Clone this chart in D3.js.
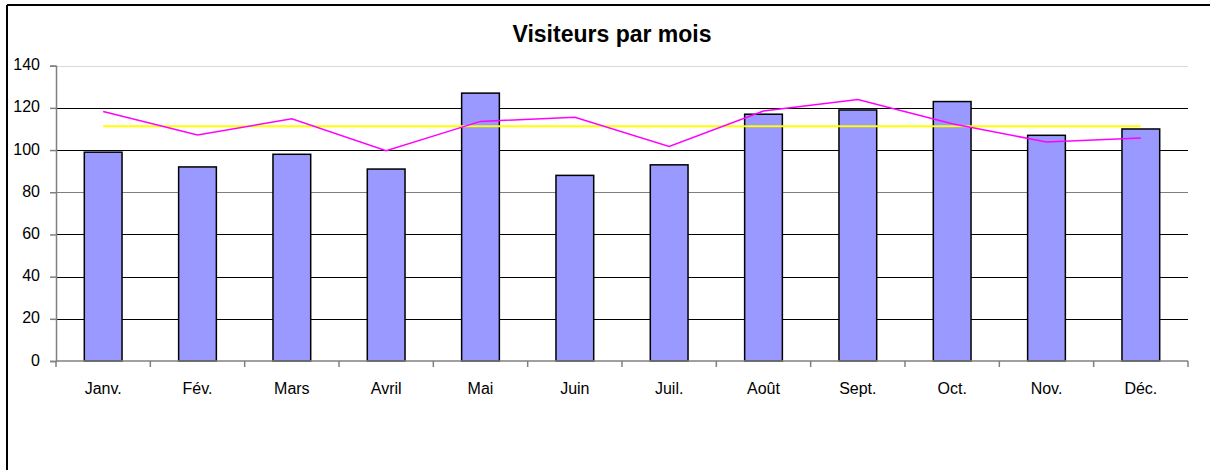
<!DOCTYPE html>
<html lang="fr">
<head>
<meta charset="UTF-8">
<title>Visiteurs par mois</title>
<script src="https://d3js.org/d3.v7.min.js"></script>
<style>
    body, html { margin: 0; padding: 0; background: #fff; }
    svg { display: block; font-family: 'Liberation Sans', Arial, sans-serif; }
</style>
</head>
<body>
<div id="chart"></div>
<script>
    // data
    const months = ["Janv.", "Fév.", "Mars", "Avril", "Mai", "Juin", "Juil.", "Août", "Sept.", "Oct.", "Nov.", "Déc."]
    const visitors = [99, 92, 98, 91, 127, 88, 93, 117, 119, 123, 107, 110]
    const trend = [118.3, 107.2, 114.8, 99.7, 113.6, 115.6, 101.7, 118.5, 124, 112.5, 103.8, 105.7]
    const average = [111.3, 111.3, 111.3, 111.3, 111.3, 111.3, 111.3, 111.3, 111.3, 111.3, 111.3, 111.3]
    const yTicks = [0, 20, 40, 60, 80, 100, 120, 140]

    const width = 1210, height = 470
    const plot = { left: 56, right: 1188, top: 65.7, bottom: 361 }

    const svg = d3.select("#chart").append("svg")
        .attr("width", width)
        .attr("height", height)

    // frame (only top and left edges show)
    svg.append("line").attr("x1", 7).attr("y1", 5).attr("x2", width).attr("y2", 5)
        .attr("stroke", "#000").attr("stroke-width", 2)
    svg.append("line").attr("x1", 7).attr("y1", 5).attr("x2", 7).attr("y2", height)
        .attr("stroke", "#000").attr("stroke-width", 2)

    svg.append("text")
        .attr("x", 612).attr("y", 42)
        .attr("text-anchor", "middle")
        .style("font-size", "23px").style("font-weight", "bold")
        .text("Visiteurs par mois")

    const x = d3.scaleBand().domain(months)
        .range([plot.left, plot.right])
        .paddingInner(0.6).paddingOuter(0.3)
    const xCat = d3.scaleBand().domain(months).range([plot.left, plot.right])
    const y = d3.scaleLinear().domain([0, 140]).range([plot.bottom, plot.top])

    // gridlines
    const gridColor = v => v === 140 ? "#d9d9d9" : (v === 80 ? "#7f7f7f" : "#000")
    svg.append("g").selectAll("line")
        .data(yTicks.filter(d => d > 0))
        .join("line")
        .attr("x1", plot.left).attr("x2", plot.right)
        .attr("y1", d => Math.round(y(d)) + 0.5).attr("y2", d => Math.round(y(d)) + 0.5)
        .attr("stroke", gridColor).attr("stroke-width", 1)

    // y axis
    const yAxis = svg.append("g")
        .attr("transform", `translate(${plot.left},0)`)
        .call(d3.axisLeft(y).tickValues(yTicks).tickSize(6).tickPadding(10))
    yAxis.select(".domain").attr("stroke", "#808080").attr("stroke-width", 1.5)
    yAxis.selectAll(".tick line").attr("stroke", "#808080").attr("stroke-width", 1.5)
    yAxis.selectAll(".tick text")
        .style("font-size", "16px").style("font-family", "'Liberation Sans', Arial, sans-serif")
        .attr("fill", "#000").attr("dy", "0.25em")

    // bars
    svg.append("g").selectAll("rect")
        .data(visitors)
        .join("rect")
        .attr("x", (d, i) => x(months[i]))
        .attr("y", d => y(d))
        .attr("width", x.bandwidth())
        .attr("height", d => y(0) - y(d))
        .attr("fill", "#9999ff")
        .attr("stroke", "#000")
        .attr("stroke-width", 1.5)

    // x axis with ticks between categories
    const bounds = months.map(m => xCat(m)).concat([plot.right])
    svg.append("line")
        .attr("x1", plot.left).attr("x2", plot.right)
        .attr("y1", y(0)).attr("y2", y(0))
        .attr("stroke", "#808080").attr("stroke-width", 1.5)
    svg.append("g").selectAll("line")
        .data(bounds)
        .join("line")
        .attr("x1", d => d).attr("x2", d => d)
        .attr("y1", y(0)).attr("y2", y(0) + 6)
        .attr("stroke", "#808080").attr("stroke-width", 1.5)
    svg.append("g").selectAll("text")
        .data(months)
        .join("text")
        .attr("x", d => xCat(d) + xCat.bandwidth() / 2)
        .attr("y", 394)
        .attr("text-anchor", "middle")
        .style("font-size", "16px")
        .text(d => d)

    const cx = i => xCat(months[i]) + xCat.bandwidth() / 2
    const line = d3.line().x((d, i) => cx(i)).y(d => y(d))

    svg.append("path")
        .datum(average)
        .attr("d", line)
        .attr("fill", "none")
        .attr("stroke", "#ffff00")
        .attr("stroke-width", 2)

    svg.append("path")
        .datum(trend)
        .attr("d", line)
        .attr("fill", "none")
        .attr("stroke", "#ff00ff")
        .attr("stroke-width", 1.5)
</script>
</body>
</html>
